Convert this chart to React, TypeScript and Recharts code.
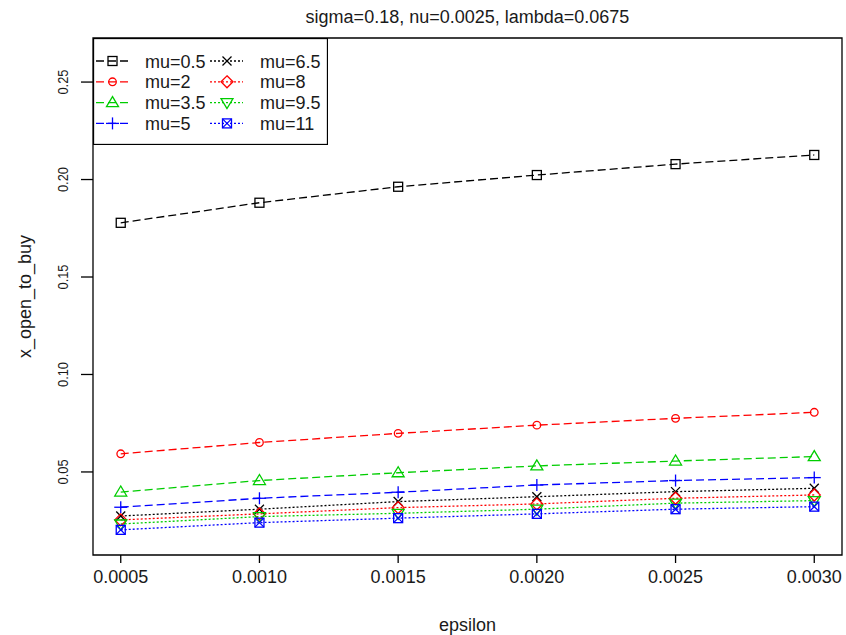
import React from "react";
import {
  LineChart,
  Line,
  XAxis,
  YAxis,
  ReferenceArea,
  Legend,
} from "recharts";

// =========================================
// Data
// =========================================

const epsilon = [0.0005, 0.001, 0.0015, 0.002, 0.0025, 0.003];

const mu05 = [0.1778, 0.1881, 0.1963, 0.2023, 0.2079, 0.2126];
const mu2 = [0.0593, 0.0651, 0.0698, 0.074, 0.0775, 0.0806];
const mu35 = [0.0397, 0.0456, 0.0496, 0.0531, 0.0556, 0.0579];
const mu5 = [0.0319, 0.0365, 0.0396, 0.0433, 0.0456, 0.0471];
const mu65 = [0.0274, 0.0309, 0.0348, 0.0373, 0.0399, 0.0416];
const mu8 = [0.0254, 0.0285, 0.0317, 0.0336, 0.0365, 0.0382];
const mu95 = [0.0233, 0.0271, 0.0288, 0.0309, 0.034, 0.0353];
const mu11 = [0.0203, 0.024, 0.0263, 0.0285, 0.0309, 0.0322];

const xTicks = [0.0005, 0.001, 0.0015, 0.002, 0.0025, 0.003];
const yTicks = [0.05, 0.1, 0.15, 0.2, 0.25];

const X_DOMAIN: [number, number] = [0.0004, 0.0031];
const Y_DOMAIN: [number, number] = [0.0074, 0.2726];

const FONT = "'Liberation Sans', Arial, sans-serif";
const TEXT = "#1a1a1a";
const DASHED = "8 4";
const DOTTED = "2 2";

type Shape = "square" | "circle" | "triUp" | "plus" | "cross" | "diamond" | "triDown" | "squareX";

const series: { key: string; name: string; values: number[]; color: string; dash: string; shape: Shape }[] = [
  { key: "m05", name: "mu=0.5", values: mu05, color: "#000000", dash: DASHED, shape: "square" },
  { key: "m2", name: "mu=2", values: mu2, color: "#ff0000", dash: DASHED, shape: "circle" },
  { key: "m35", name: "mu=3.5", values: mu35, color: "#00cd00", dash: DASHED, shape: "triUp" },
  { key: "m5", name: "mu=5", values: mu5, color: "#0000ff", dash: DASHED, shape: "plus" },
  { key: "m65", name: "mu=6.5", values: mu65, color: "#000000", dash: DOTTED, shape: "cross" },
  { key: "m8", name: "mu=8", values: mu8, color: "#ff0000", dash: DOTTED, shape: "diamond" },
  { key: "m95", name: "mu=9.5", values: mu95, color: "#00cd00", dash: DOTTED, shape: "triDown" },
  { key: "m11", name: "mu=11", values: mu11, color: "#0000ff", dash: DOTTED, shape: "squareX" },
];

const chartData = epsilon.map((eps, i) => {
  const row: Record<string, number> = { eps };
  series.forEach((s) => {
    row[s.key] = s.values[i];
  });
  return row;
});

// =========================================
// R-style point symbols
// =========================================

function Marker({ shape, cx, cy, color }: { shape: Shape; cx: number; cy: number; color: string }) {
  const sw = 1.3;
  const common = { fill: "none", stroke: color, strokeWidth: sw };
  switch (shape) {
    case "square":
      return <rect x={cx - 4.5} y={cy - 4.5} width={9} height={9} {...common} />;
    case "circle":
      return <circle cx={cx} cy={cy} r={3.8} {...common} />;
    case "triUp":
      return (
        <polygon
          points={`${cx},${cy - 6} ${cx - 6},${cy + 4} ${cx + 6},${cy + 4}`}
          {...common}
        />
      );
    case "triDown":
      return (
        <polygon
          points={`${cx},${cy + 6} ${cx - 6},${cy - 4} ${cx + 6},${cy - 4}`}
          {...common}
        />
      );
    case "plus":
      return (
        <g {...common}>
          <line x1={cx - 6.5} y1={cy} x2={cx + 6.5} y2={cy} />
          <line x1={cx} y1={cy - 6} x2={cx} y2={cy + 6} />
        </g>
      );
    case "cross":
      return (
        <g {...common}>
          <line x1={cx - 4.5} y1={cy - 4.5} x2={cx + 4.5} y2={cy + 4.5} />
          <line x1={cx - 4.5} y1={cy + 4.5} x2={cx + 4.5} y2={cy - 4.5} />
        </g>
      );
    case "diamond":
      return (
        <polygon
          points={`${cx},${cy - 6} ${cx + 6},${cy} ${cx},${cy + 6} ${cx - 6},${cy}`}
          {...common}
        />
      );
    case "squareX":
      return (
        <g {...common}>
          <rect x={cx - 4.5} y={cy - 4.5} width={9} height={9} />
          <line x1={cx - 4.5} y1={cy - 4.5} x2={cx + 4.5} y2={cy + 4.5} />
          <line x1={cx - 4.5} y1={cy + 4.5} x2={cx + 4.5} y2={cy - 4.5} />
        </g>
      );
  }
  return null;
}

// =========================================
// Ticks, labels, legend
// =========================================

const XTick = (props: any) => {
  const { x, y, payload } = props;
  return (
    <text x={x} y={y + 20} textAnchor="middle" fontSize={18} fontFamily={FONT} fill={TEXT}>
      {Number(payload.value).toFixed(4)}
    </text>
  );
};

const YTick = (props: any) => {
  const { y, payload } = props;
  const bx = 68;
  return (
    <text
      x={bx}
      y={y}
      transform={`rotate(-90, ${bx}, ${y})`}
      textAnchor="middle"
      fontSize={15}
      fontFamily={FONT}
      fill={TEXT}
      textLength={25}
      lengthAdjust="spacingAndGlyphs"
    >
      {Number(payload.value).toFixed(2)}
    </text>
  );
};

const LegendBox = () => {
  const w = 235;
  const h = 107;
  const cols = [
    { lineX1: 3, lineX2: 35, symX: 19.5, textX: 52 },
    { lineX1: 117, lineX2: 150, symX: 134, textX: 167 },
  ];
  return (
    <svg width={w} height={h} style={{ display: "block" }}>
      <rect x={0.5} y={0.5} width={w - 1} height={h - 1} fill="#fff" stroke="#000" strokeWidth={1.3} />
      {series.map((s, i) => {
        const c = cols[Math.floor(i / 4)];
        const cy = 23 + (i % 4) * 20.8;
        return (
          <g key={s.key}>
            <line
              x1={c.lineX1}
              y1={cy}
              x2={c.lineX2}
              y2={cy}
              stroke={s.color}
              strokeWidth={1.3}
              strokeDasharray={s.dash}
            />
            <Marker shape={s.shape} cx={c.symX} cy={cy} color={s.color} />
            <text x={c.textX} y={cy + 6.5} fontSize={18} fontFamily={FONT} fill={TEXT}>
              {s.name}
            </text>
          </g>
        );
      })}
    </svg>
  );
};

export default function App() {
  return (
    <div style={{ position: "absolute", left: 0, top: 0, width: 846, height: 635, background: "#fff" }}>
      <LineChart
        width={846}
        height={635}
        data={chartData}
        margin={{ top: 38, right: 4, bottom: 0, left: 0 }}
      >
        <XAxis
          dataKey="eps"
          type="number"
          domain={X_DOMAIN}
          ticks={xTicks}
          allowDataOverflow
          height={80}
          axisLine={false}
          tickSize={8}
          tickMargin={0}
          tickLine={{ stroke: "#000", strokeWidth: 1.3 }}
          tick={<XTick />}
          label={(p: any) => {
            const vb = p && p.viewBox ? p.viewBox : { x: 93, y: 555, width: 749, height: 80 };
            return (
              <text
                x={vb.x + vb.width / 2}
                y={vb.y + 76}
                textAnchor="middle"
                fontSize={18}
                fontFamily={FONT}
                fill={TEXT}
              >
                epsilon
              </text>
            );
          }}
        />
        <YAxis
          type="number"
          domain={Y_DOMAIN}
          ticks={yTicks}
          allowDataOverflow
          width={93}
          axisLine={false}
          tickSize={12}
          tickLine={{ stroke: "#000", strokeWidth: 1.3 }}
          tick={<YTick />}
          label={(p: any) => {
            const vb = p && p.viewBox ? p.viewBox : { x: 0, y: 38, width: 93, height: 517 };
            const cy = vb.y + vb.height / 2;
            return (
              <text
                x={31}
                y={cy}
                transform={`rotate(-90, 31, ${cy})`}
                textAnchor="middle"
                fontSize={18}
                fontFamily={FONT}
                fill={TEXT}
              >
                x_open_to_buy
              </text>
            );
          }}
        />
        <ReferenceArea
          x1={X_DOMAIN[0]}
          x2={X_DOMAIN[1]}
          y1={Y_DOMAIN[0]}
          y2={Y_DOMAIN[1]}
          ifOverflow="visible"
          fill="none"
          stroke="#000"
          strokeWidth={1.3}
          label={(p: any) => {
            const vb = p && p.viewBox ? p.viewBox : { x: 93, y: 38, width: 749, height: 517 };
            return (
              <text
                x={vb.x + vb.width / 2}
                y={vb.y - 15}
                textAnchor="middle"
                fontSize={18}
                fontFamily={FONT}
                fill={TEXT}
              >
                sigma=0.18, nu=0.0025, lambda=0.0675
              </text>
            );
          }}
        />
        {series.map((s) => (
          <Line
            key={s.key}
            dataKey={s.key}
            name={s.name}
            stroke={s.color}
            strokeWidth={1.3}
            strokeDasharray={s.dash}
            isAnimationActive={false}
            dot={(p: any) => (
              <Marker key={`${s.key}-${p.index}`} shape={s.shape} cx={p.cx} cy={p.cy} color={s.color} />
            )}
            activeDot={false}
          />
        ))}
        <Legend
          layout="horizontal"
          verticalAlign="middle"
          align="center"
          content={<LegendBox />}
          wrapperStyle={{ position: "absolute", left: 93, top: 38, width: 235, height: 107 }}
        />
      </LineChart>
    </div>
  );
}
